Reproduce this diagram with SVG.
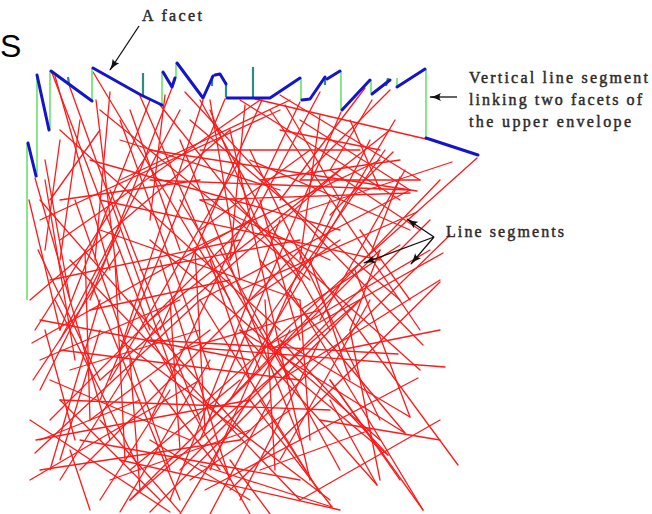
<svg xmlns="http://www.w3.org/2000/svg" width="652" height="514" viewBox="0 0 652 514">
<defs>
<style>
.seg line{stroke:#ff1a1a;stroke-width:1.3;stroke-linecap:round}
.env{fill:none;stroke:#1414cc;stroke-width:3;stroke-linejoin:round;stroke-linecap:round}
.vg{stroke:#86e886;stroke-width:2}
.vt{stroke:#2e8a86;stroke-width:2.2}
.lbl{font-family:"Liberation Serif","DejaVu Serif",serif;font-size:16px;fill:#2a2a2a;stroke:#2a2a2a;stroke-width:0.45}
.arr{stroke:#111;stroke-width:1.3;fill:none;marker-end:url(#ah)}
</style>
<marker id="ah" viewBox="0 0 12 8" refX="11" refY="4" markerWidth="12" markerHeight="8" markerUnits="userSpaceOnUse" orient="auto">
<path d="M0,0 Q5,3 12,4 Q5,5 0,8 Q3,4 0,0 z" fill="#111"/>
</marker>
</defs>
<rect width="652" height="514" fill="#fff"/>
<text x="0" y="57" font-family="Liberation Sans, Arial, sans-serif" font-size="32" fill="#000">S</text>

<g id="segments" class="seg">
<line x1="477" y1="158" x2="205" y2="402"/>
<line x1="426" y1="139" x2="255" y2="99"/>
<line x1="452" y1="162" x2="300" y2="212"/>
<line x1="417" y1="191" x2="150" y2="150"/>
<line x1="410" y1="193" x2="200" y2="200"/>
<line x1="393" y1="152" x2="330" y2="215"/>
<line x1="400" y1="177" x2="372" y2="250"/>
<line x1="417" y1="212" x2="240" y2="290"/>
<line x1="443" y1="253" x2="270" y2="350"/>
<line x1="458" y1="465" x2="300" y2="250"/>
<line x1="423" y1="345" x2="330" y2="250"/>
<line x1="445" y1="367" x2="200" y2="348"/>
<line x1="398" y1="354" x2="150" y2="340"/>
<line x1="418" y1="378" x2="205" y2="490"/>
<line x1="410" y1="417" x2="280" y2="340"/>
<line x1="405" y1="433" x2="240" y2="330"/>
<line x1="388" y1="455" x2="280" y2="365"/>
<line x1="377" y1="485" x2="330" y2="400"/>
<line x1="423" y1="510" x2="330" y2="380"/>
<line x1="332" y1="507" x2="200" y2="465"/>
<line x1="320" y1="493" x2="260" y2="400"/>
<line x1="450" y1="235" x2="240" y2="440"/>
<line x1="440" y1="282" x2="230" y2="490"/>
<line x1="440" y1="180" x2="210" y2="420"/>
<line x1="430" y1="220" x2="180" y2="470"/>
<line x1="380" y1="250" x2="130" y2="500"/>
<line x1="360" y1="300" x2="150" y2="512"/>
<line x1="52" y1="73" x2="150" y2="330"/>
<line x1="55" y1="76" x2="110" y2="270"/>
<line x1="68" y1="82" x2="175" y2="380"/>
<line x1="93" y1="72" x2="230" y2="300"/>
<line x1="96" y1="100" x2="120" y2="300"/>
<line x1="140" y1="96" x2="260" y2="370"/>
<line x1="150" y1="100" x2="60" y2="330"/>
<line x1="160" y1="105" x2="300" y2="280"/>
<line x1="175" y1="80" x2="90" y2="300"/>
<line x1="185" y1="92" x2="330" y2="250"/>
<line x1="203" y1="100" x2="120" y2="350"/>
<line x1="210" y1="100" x2="240" y2="280"/>
<line x1="225" y1="99" x2="100" y2="400"/>
<line x1="240" y1="100" x2="400" y2="200"/>
<line x1="262" y1="100" x2="160" y2="330"/>
<line x1="280" y1="95" x2="420" y2="180"/>
<line x1="300" y1="102" x2="150" y2="420"/>
<line x1="320" y1="92" x2="230" y2="260"/>
<line x1="341" y1="112" x2="200" y2="440"/>
<line x1="365" y1="88" x2="280" y2="200"/>
<line x1="390" y1="90" x2="300" y2="180"/>
<line x1="395" y1="120" x2="230" y2="400"/>
<line x1="372" y1="100" x2="330" y2="170"/>
<line x1="29" y1="200" x2="60" y2="330"/>
<line x1="35" y1="178" x2="110" y2="440"/>
<line x1="38" y1="250" x2="100" y2="380"/>
<line x1="30" y1="300" x2="230" y2="130"/>
<line x1="32" y1="343" x2="250" y2="220"/>
<line x1="33" y1="380" x2="120" y2="250"/>
<line x1="35" y1="453" x2="200" y2="300"/>
<line x1="30" y1="420" x2="170" y2="512"/>
<line x1="40" y1="470" x2="240" y2="440"/>
<line x1="45" y1="330" x2="75" y2="440"/>
<line x1="36" y1="440" x2="250" y2="400"/>
<line x1="50" y1="200" x2="100" y2="130"/>
<line x1="45" y1="160" x2="70" y2="300"/>
<line x1="60" y1="140" x2="45" y2="250"/>
<line x1="80" y1="120" x2="60" y2="260"/>
<line x1="50" y1="280" x2="240" y2="240"/>
<line x1="40" y1="320" x2="250" y2="360"/>
<line x1="60" y1="350" x2="300" y2="380"/>
<line x1="60" y1="240" x2="260" y2="100"/>
<line x1="40" y1="220" x2="280" y2="110"/>
<line x1="100" y1="200" x2="380" y2="260"/>
<line x1="150" y1="180" x2="410" y2="190"/>
<line x1="200" y1="150" x2="360" y2="150"/>
<line x1="250" y1="160" x2="410" y2="230"/>
<line x1="80" y1="440" x2="300" y2="480"/>
<line x1="120" y1="460" x2="340" y2="510"/>
<line x1="60" y1="400" x2="330" y2="410"/>
<line x1="100" y1="230" x2="300" y2="300"/>
<line x1="300" y1="180" x2="420" y2="180"/>
<line x1="70" y1="370" x2="200" y2="330"/>
<line x1="60" y1="130" x2="280" y2="330"/>
<line x1="100" y1="110" x2="310" y2="280"/>
<line x1="40" y1="200" x2="250" y2="440"/>
<line x1="70" y1="260" x2="300" y2="500"/>
<line x1="120" y1="340" x2="330" y2="500"/>
<line x1="190" y1="120" x2="400" y2="300"/>
<line x1="230" y1="200" x2="420" y2="370"/>
<line x1="150" y1="240" x2="380" y2="440"/>
<line x1="90" y1="160" x2="340" y2="230"/>
<line x1="120" y1="120" x2="210" y2="370"/>
<line x1="180" y1="140" x2="300" y2="440"/>
<line x1="200" y1="100" x2="330" y2="330"/>
<line x1="230" y1="130" x2="310" y2="480"/>
<line x1="250" y1="150" x2="380" y2="420"/>
<line x1="270" y1="110" x2="420" y2="330"/>
<line x1="355" y1="270" x2="410" y2="417"/>
<line x1="90" y1="280" x2="180" y2="500"/>
<line x1="130" y1="300" x2="250" y2="514"/>
<line x1="160" y1="260" x2="230" y2="480"/>
<line x1="200" y1="300" x2="320" y2="493"/>
<line x1="240" y1="330" x2="377" y2="485"/>
<line x1="280" y1="340" x2="388" y2="455"/>
<line x1="180" y1="200" x2="290" y2="380"/>
<line x1="110" y1="190" x2="200" y2="420"/>
<line x1="60" y1="400" x2="160" y2="500"/>
<line x1="150" y1="380" x2="220" y2="470"/>
<line x1="220" y1="250" x2="340" y2="470"/>
<line x1="260" y1="260" x2="405" y2="433"/>
<line x1="290" y1="290" x2="423" y2="510"/>
<line x1="100" y1="420" x2="180" y2="512"/>
<line x1="250" y1="400" x2="332" y2="507"/>
<line x1="385" y1="150" x2="260" y2="330"/>
<line x1="330" y1="200" x2="210" y2="470"/>
<line x1="280" y1="220" x2="170" y2="500"/>
<line x1="240" y1="160" x2="110" y2="380"/>
<line x1="180" y1="110" x2="60" y2="340"/>
<line x1="150" y1="150" x2="35" y2="330"/>
<line x1="120" y1="230" x2="40" y2="390"/>
<line x1="100" y1="300" x2="50" y2="470"/>
<line x1="160" y1="320" x2="60" y2="480"/>
<line x1="210" y1="360" x2="120" y2="512"/>
<line x1="290" y1="330" x2="180" y2="514"/>
<line x1="320" y1="340" x2="240" y2="500"/>
<line x1="270" y1="400" x2="210" y2="514"/>
<line x1="370" y1="300" x2="280" y2="460"/>
<line x1="405" y1="170" x2="320" y2="320"/>
<line x1="130" y1="500" x2="360" y2="300"/>
<line x1="80" y1="470" x2="300" y2="250"/>
<line x1="50" y1="420" x2="250" y2="220"/>
<line x1="100" y1="380" x2="340" y2="170"/>
<line x1="150" y1="320" x2="390" y2="130"/>
<line x1="200" y1="300" x2="410" y2="190"/>
<line x1="120" y1="180" x2="290" y2="100"/>
<line x1="260" y1="350" x2="430" y2="250"/>
<line x1="280" y1="380" x2="440" y2="280"/>
<line x1="300" y1="500" x2="440" y2="420"/>
<line x1="190" y1="250" x2="380" y2="160"/>
<line x1="30" y1="480" x2="200" y2="380"/>
<line x1="45" y1="180" x2="75" y2="360"/>
<line x1="110" y1="92" x2="95" y2="260"/>
<line x1="130" y1="110" x2="180" y2="250"/>
<line x1="165" y1="95" x2="150" y2="220"/>
<line x1="210" y1="110" x2="260" y2="230"/>
<line x1="245" y1="105" x2="230" y2="260"/>
<line x1="285" y1="105" x2="340" y2="200"/>
<line x1="320" y1="115" x2="300" y2="260"/>
<line x1="350" y1="120" x2="380" y2="190"/>
<line x1="370" y1="140" x2="320" y2="240"/>
<line x1="60" y1="200" x2="200" y2="180"/>
<line x1="120" y1="140" x2="280" y2="190"/>
<line x1="200" y1="200" x2="330" y2="260"/>
<line x1="140" y1="270" x2="300" y2="240"/>
<line x1="90" y1="310" x2="230" y2="280"/>
<line x1="180" y1="350" x2="320" y2="310"/>
<line x1="50" y1="380" x2="190" y2="440"/>
<line x1="110" y1="480" x2="250" y2="430"/>
<line x1="190" y1="480" x2="290" y2="410"/>
<line x1="330" y1="380" x2="400" y2="480"/>
<line x1="350" y1="330" x2="380" y2="480"/>
<line x1="310" y1="260" x2="350" y2="380"/>
<line x1="260" y1="200" x2="300" y2="340"/>
<line x1="210" y1="260" x2="250" y2="380"/>
<line x1="170" y1="300" x2="180" y2="450"/>
<line x1="130" y1="360" x2="140" y2="490"/>
<line x1="70" y1="450" x2="90" y2="510"/>
<line x1="230" y1="460" x2="270" y2="514"/>
<line x1="150" y1="440" x2="250" y2="500"/>
<line x1="260" y1="470" x2="370" y2="430"/>
<line x1="320" y1="420" x2="440" y2="440"/>
<line x1="340" y1="350" x2="440" y2="330"/>
<line x1="360" y1="230" x2="410" y2="300"/>
<line x1="380" y1="250" x2="350" y2="330"/>
<line x1="40" y1="360" x2="180" y2="300"/>
<line x1="55" y1="300" x2="140" y2="470"/>
<line x1="75" y1="200" x2="170" y2="470"/>
<line x1="100" y1="330" x2="60" y2="460"/>
<line x1="140" y1="400" x2="40" y2="440"/>
<line x1="170" y1="390" x2="100" y2="500"/>
<line x1="210" y1="330" x2="90" y2="420"/>
<line x1="240" y1="380" x2="130" y2="470"/>
<line x1="85" y1="250" x2="90" y2="420"/>
<line x1="115" y1="260" x2="125" y2="460"/>
<line x1="195" y1="250" x2="205" y2="430"/>
<line x1="265" y1="300" x2="275" y2="470"/>
<line x1="300" y1="300" x2="310" y2="440"/>
<line x1="300" y1="120" x2="410" y2="190"/>
<line x1="310" y1="150" x2="200" y2="230"/>
<line x1="330" y1="170" x2="420" y2="230"/>
<line x1="280" y1="130" x2="380" y2="150"/>
<line x1="260" y1="180" x2="400" y2="160"/>
<line x1="340" y1="240" x2="250" y2="300"/>
<line x1="400" y1="245" x2="300" y2="310"/>
</g>

<g id="verticals">
<line class="vg" x1="27" y1="143" x2="27" y2="300"/>
<line class="vg" x1="37" y1="75" x2="37" y2="177"/>
<line class="vg" x1="50" y1="71" x2="50" y2="130"/>
<line class="vg" x1="92" y1="68" x2="92" y2="101"/>
<line class="vg" x1="162" y1="72" x2="162" y2="105"/>
<line class="vg" x1="176" y1="63" x2="176" y2="78"/>
<line class="vg" x1="301" y1="78" x2="301" y2="100"/>
<line class="vg" x1="341" y1="71" x2="341" y2="110"/>
<line class="vg" x1="371" y1="80" x2="371" y2="93"/>
<line class="vg" x1="397" y1="78" x2="397" y2="87"/>
<line class="vg" x1="426" y1="69" x2="426" y2="138"/>
<line class="vt" x1="68" y1="77" x2="69" y2="84"/>
<line class="vt" x1="143" y1="73" x2="143" y2="95"/>
<line class="vt" x1="212" y1="76" x2="212" y2="86"/>
<line class="vt" x1="226" y1="82" x2="226" y2="97"/>
<line class="vt" x1="253" y1="67" x2="253" y2="97"/>
<line class="vt" x1="325" y1="77" x2="325" y2="85"/>
<line class="vt" x1="388" y1="78" x2="386" y2="86"/>
</g>

<g id="envelope">
<polyline class="env" points="28,143 36,176"/>
<polyline class="env" points="37,75 49,130"/>
<polyline class="env" points="51,71 92,101"/>
<polyline class="env" points="93,68 141,95 162,105"/>
<polyline class="env" points="163,72 172,87 175,78"/>
<polyline class="env" points="177,63 203,98 213,76"/>
<polyline class="env" points="215,75 220,74 226,84"/>
<polyline class="env" points="227,98 270,98 300,78"/>
<polyline class="env" points="302,100 310,99 325,77"/>
<polyline class="env" points="327,79 340,71"/>
<polyline class="env" points="342,110 370,80"/>
<polyline class="env" points="372,94 390,80"/>
<polyline class="env" points="397,87 425,69"/>
<polyline class="env" points="426,138 478,155"/>
</g>

<g id="labels">
<text class="lbl" x="142" y="21" textLength="60" lengthAdjust="spacing">A facet</text>
<text class="lbl" x="469" y="83" textLength="179" lengthAdjust="spacing">Vertical line segment</text>
<text class="lbl" x="469" y="105" textLength="173" lengthAdjust="spacing">linking two facets of</text>
<text class="lbl" x="469" y="127" textLength="162" lengthAdjust="spacing">the upper envelope</text>
<text class="lbl" x="446" y="237" textLength="118" lengthAdjust="spacing">Line segments</text>
</g>

<g id="arrows">
<line class="arr" x1="139" y1="26" x2="110" y2="70"/>
<line class="arr" x1="457" y1="97" x2="430" y2="97"/>
<line class="arr" x1="434" y1="237" x2="407" y2="219"/>
<line class="arr" x1="434" y1="237" x2="364" y2="263"/>
<line class="arr" x1="434" y1="237" x2="411" y2="264"/>
</g>
</svg>
